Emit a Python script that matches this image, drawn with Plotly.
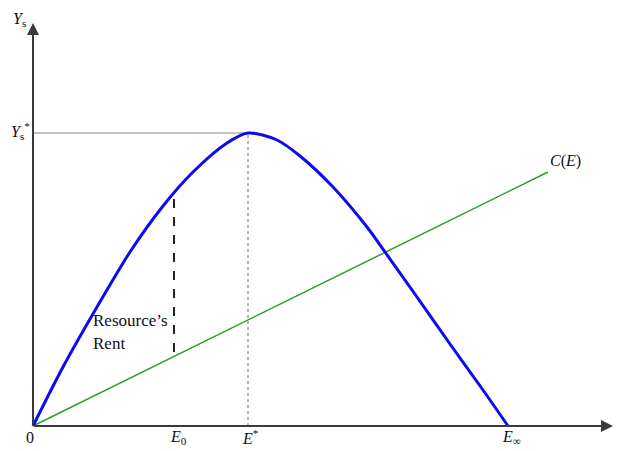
import plotly.graph_objects as go

# sustainable yield curve Y_s(E)
effort = [0, 30, 64, 97, 130, 160, 194, 215, 244, 267, 300, 334, 352, 384, 417, 450, 475]
yield_s = [0, 59, 119, 174, 220, 254, 283, 293, 286, 270, 239, 199, 174, 129, 82, 36, 0]

# cost line C(E)
cost_effort = [0, 515]
cost = [0, 254]

# key points
e_0 = 141
e_star = 215
e_inf = 475
y_star = 293
rent_top = 231
rent_bottom = 74

x_end = 580
y_end = 403

serif = "Liberation Serif"
ink = "#111111"

fig = go.Figure()

fig.add_trace(go.Scatter(
    x=cost_effort, y=cost, mode="lines",
    line=dict(color="rgb(40,160,40)", width=1.5),
    hoverinfo="skip",
))
fig.add_trace(go.Scatter(
    x=effort, y=yield_s, mode="lines",
    line=dict(color="rgb(10,10,245)", width=3, shape="spline", smoothing=0.8),
    hoverinfo="skip",
))

# guide lines
fig.add_shape(type="line", x0=0, y0=y_star, x1=e_star, y1=y_star,
              line=dict(color="#c2c2c2", width=2), layer="below")
fig.add_shape(type="line", x0=e_star, y0=0, x1=e_star, y1=y_star,
              line=dict(color="#a0a0a0", width=1.5, dash="dot"), layer="below")
fig.add_shape(type="line", x0=e_0, y0=rent_bottom, x1=e_0, y1=rent_top,
              line=dict(color="#222222", width=2, dash="dash"))

# axes with arrows
for tip_x, tip_y in [(x_end, 0), (0, y_end)]:
    fig.add_annotation(x=tip_x, y=tip_y, ax=0, ay=0, xref="x", yref="y",
                       axref="x", ayref="y", text="", showarrow=True,
                       arrowhead=2, arrowsize=1.2, arrowwidth=2,
                       arrowcolor="#3a3a3a")

labels = [
    (-14, 407, "<i>Y</i><sub>s</sub>"),
    (-13, 295, "<i>Y</i><sub>s</sub><sup>*</sup>"),
    (-3, -11, "0"),
    (e_0 + 4, -11, "<i>E</i><sub>0</sub>"),
    (e_star + 2, -11, "<i>E</i><sup>*</sup>"),
    (e_inf + 3, -11, "<i>E</i><sub>∞</sub>"),
    (x_end + 6, -9, "<i>E</i>"),
    (532, 265, "<i>C</i>(<i>E</i>)"),
]
for lx, ly, txt in labels:
    fig.add_annotation(x=lx, y=ly, text=txt, showarrow=False,
                       font=dict(family=serif, size=16, color=ink))

fig.add_annotation(x=58, y=106, text="Resource’s", showarrow=False,
                   xanchor="left", font=dict(family=serif, size=17, color=ink))
fig.add_annotation(x=58, y=83, text="Rent", showarrow=False,
                   xanchor="left", font=dict(family=serif, size=17, color=ink))

# page body has an 8px margin, so the figure sits 8px in from the window corner
fig.update_layout(
    width=613, height=443,
    margin=dict(l=0, r=0, t=0, b=0),
    paper_bgcolor="white", plot_bgcolor="white",
    showlegend=False,
    xaxis=dict(range=[-25, 588], visible=False, fixedrange=True),
    yaxis=dict(range=[-25, 418], visible=False, fixedrange=True),
)

fig.write_html("out.html")
